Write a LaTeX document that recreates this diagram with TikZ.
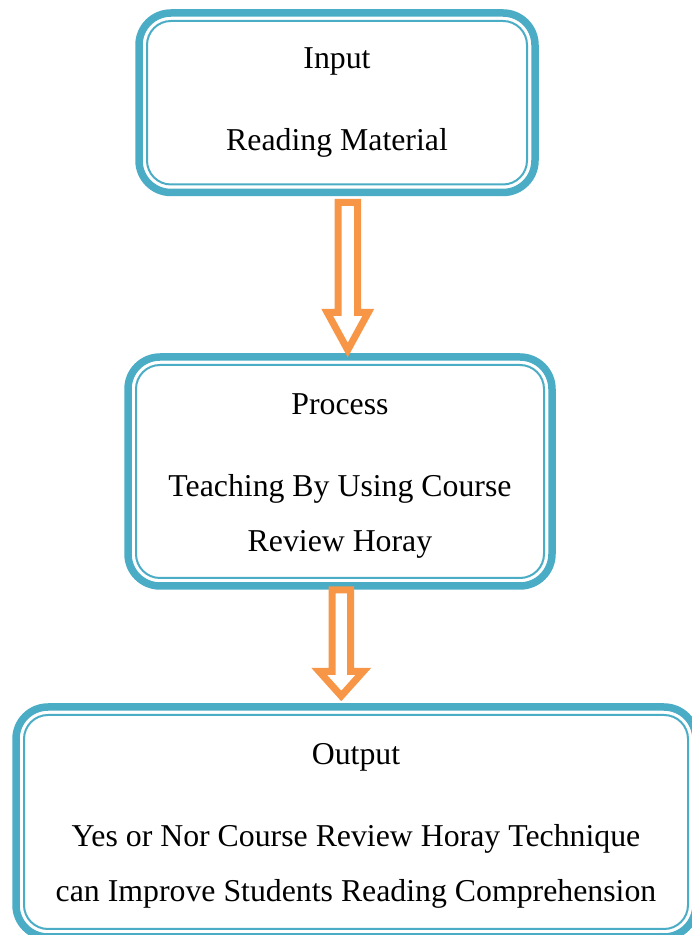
\documentclass[tikz,border=0pt]{standalone}
\usepackage{fontspec}
\setmainfont{Liberation Serif}
\usepackage{xcolor}
\usepackage{tikz}
\usetikzlibrary{calc}
\usetikzlibrary{positioning}
\definecolor{boxteal}{HTML}{4BACC6}
\definecolor{arroworange}{HTML}{F79646}

\begin{document}
\begin{tikzpicture}[x=1pt,y=1pt,
	main_box/.style={draw=boxteal,line width=7.5pt,rounded corners=32pt,inner sep=0pt,outer sep=0pt,align=center,font=\fontsize{31.8pt}{55pt}\selectfont},
	thin_line/.style={draw=boxteal,line width=2pt,rounded corners=24pt},
	block_arrow/.style={draw=arroworange,fill=white,line width=7pt,line join=miter}]
				\useasboundingbox (0,0) rectangle (692,935);
				\node[main_box,minimum width=396pt,minimum height=179.5pt](1) at (337,832.25){Input\\[27pt]Reading Material};
				\node[main_box,minimum width=424pt,minimum height=229pt](2) at (340,463.5){\rule{0pt}{29pt}Process\\[27pt]Teaching By Using Course\\Review Horay};
				\node[main_box,minimum width=680pt,minimum height=230pt](3) at (356,113){\rule{0pt}{28pt}Output\\[27pt]Yes or Nor Course Review Horay Technique\\can Improve Students Reading Comprehension};
				\foreach \n in {1,2,3}
					\draw[thin_line] ([shift={(8pt,-8pt)}]\n.north west) rectangle ([shift={(-8pt,8pt)}]\n.south east);
				% arrows between the boxes
				\draw[block_arrow] let \p1=($(1.south)+(0,-10)$), \p2=($(2.north)+(7.75,7)$) in
					({\x2-9.75pt},\y1) -- ({\x2+9.75pt},\y1) -- ({\x2+9.75pt},{\y2+37.5pt}) -- ({\x2+20.5pt},{\y2+37.5pt})
					-- (\x2,\y2) -- ({\x2-20.5pt},{\y2+37.5pt}) -- ({\x2-9.75pt},{\y2+37.5pt}) -- cycle;
				\draw[block_arrow] let \p1=($(2.south)+(0,-4)$), \p2=($(3.north)+(-14.75,11)$) in
					({\x2-9.25pt},\y1) -- ({\x2+9.25pt},\y1) -- ({\x2+9.25pt},{\y2+24.5pt}) -- ({\x2+22pt},{\y2+24.5pt})
					-- (\x2,\y2) -- ({\x2-22pt},{\y2+24.5pt}) -- ({\x2-9.25pt},{\y2+24.5pt}) -- cycle;
			\end{tikzpicture}
\end{document}
